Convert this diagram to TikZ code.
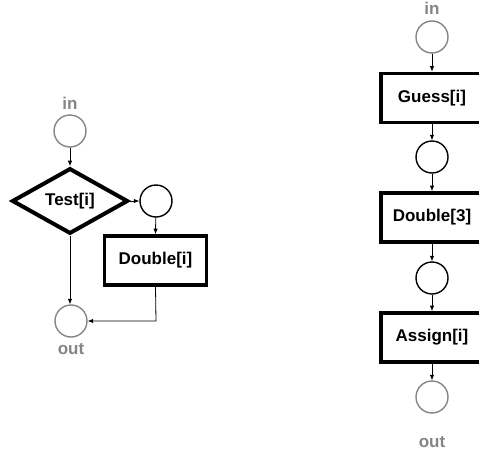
\documentclass[tikz,border=0pt]{standalone}
\usepackage{fontspec}
\setmainfont{Liberation Sans}
\usetikzlibrary{shapes.geometric,arrows.meta}
\definecolor{portgray}{HTML}{858585}
\begin{document}
\begin{tikzpicture}[x=1pt,y=-1pt,
  every node/.style={font=\fontsize{17}{19}\selectfont\bfseries},
  port/.style={circle,draw=portgray,line width=1.4pt,minimum size=32pt,inner sep=0pt},
  place/.style={circle,draw=black,line width=1.4pt,minimum size=32pt,inner sep=0pt},
  plabel/.style={text=portgray},
  stepbox/.style={rectangle,draw=black,line width=3.8pt,minimum width=102pt,minimum height=49pt,inner sep=0pt},
  testbox/.style={diamond,draw=black,line width=4pt,minimum width=116pt,minimum height=64pt,inner sep=0pt,line join=miter},
  conn/.style={draw=black,line width=0.8pt,-{Latex[length=5.5pt,width=4.5pt]}}
]
\useasboundingbox (0,0) rectangle (479,458);
% left diagram
\node[plabel] (lin) at (70,103) {in};
\node[port] (lc1) at (70,131) {};
\node[testbox] (test) at (70,201) {Test[i]};
\node[place] (lc2) at (156,201) {};
\node[stepbox] (dbl) at (155.5,260.5) {Double[i]};
\node[port] (lout) at (71,321) {};
\node[plabel] (loutl) at (71,349) {out};
\coordinate (corner) at (156,321);
\draw[conn] (lc1) -- (test.north);
\draw[conn] (test.east) -- (lc2);
\draw[conn] (lc2) -- (dbl.north);
\draw[conn] (test.south) -- (lout.north -| test.south);
\draw[conn] (dbl.south) -- (corner) -- (lout);
% right diagram
\node[plabel] (rin) at (432,8) {in};
\node[port] (rc1) at (432,37) {};
\node[stepbox] (guess) at (432,98) {Guess[i]};
\node[place] (rc2) at (432,157) {};
\node[stepbox] (dbl3) at (432,217.5) {Double[3]};
\node[place] (rc3) at (432,278) {};
\node[stepbox] (assign) at (432,337.5) {Assign[i]};
\node[port] (rout) at (432,397) {};
\node[plabel] (routl) at (432,442) {out};
\draw[conn] (rc1) -- (guess.north);
\draw[conn] (guess) -- (rc2);
\draw[conn] (rc2) -- (dbl3.north);
\draw[conn] (dbl3) -- (rc3);
\draw[conn] (rc3) -- (assign.north);
\draw[conn] (assign) -- (rout);
\end{tikzpicture}
\end{document}
